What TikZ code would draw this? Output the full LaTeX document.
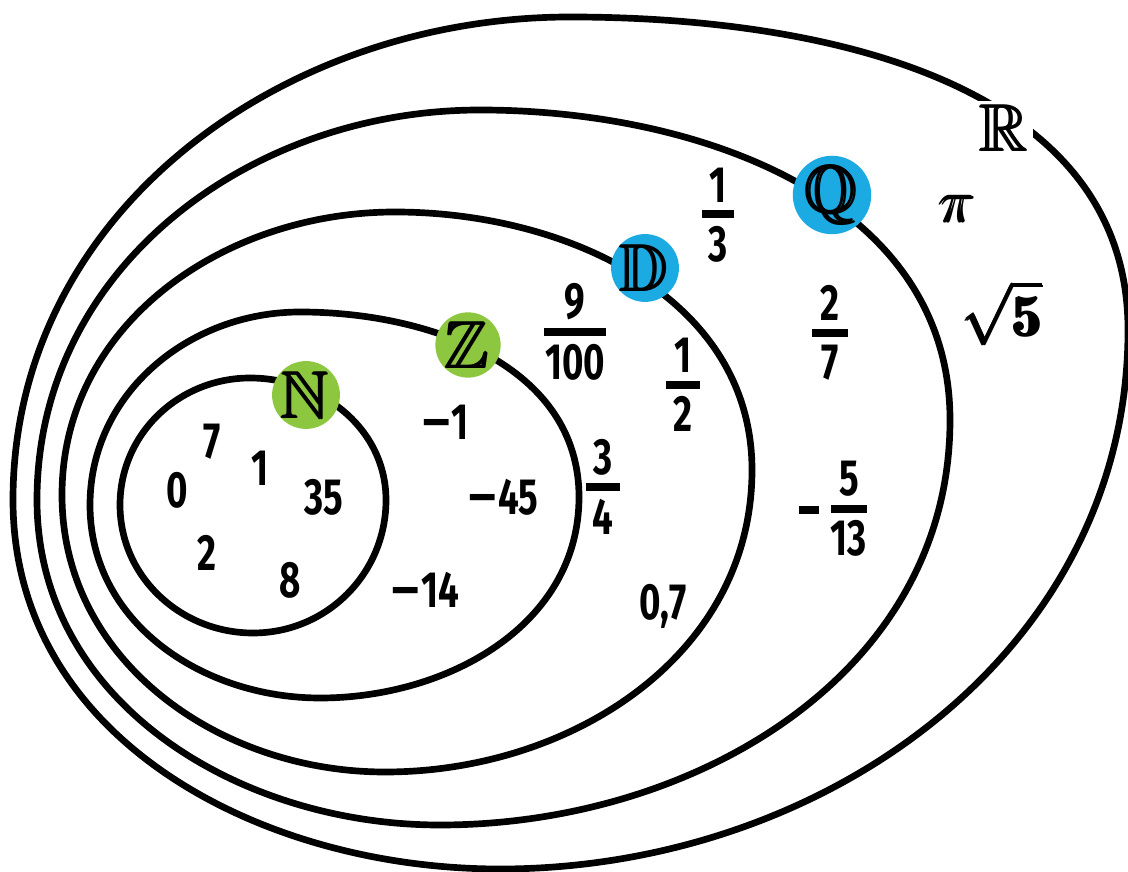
\documentclass[tikz,border=0pt]{standalone}
\usepackage{amsmath,amssymb}
\usepackage{fontspec}
\newfontfamily\numfont[FakeStretch=0.72]{Fira Sans}
\usepackage{tikz}
\usetikzlibrary{positioning}
\definecolor{setGreen}{RGB}{141,198,63}
\definecolor{setBlue}{RGB}{27,170,226}
\newcommand{\barfrac}[3]{$\genfrac{}{}{2.3pt}{1}{\makebox[#3]{#1}}{\makebox[#3]{#2}}$}
\newcommand{\mn}{\scalebox{1.6}[1]{−}}

\begin{document}
\begin{tikzpicture}[x=0.1mm,y=0.1mm,
  setline/.style={line width=1.9pt,line join=round},
  natset/.style={circle,fill=setGreen,inner sep=0pt,minimum size=6.3mm,
                 font=\fontsize{19}{21}\selectfont},
  ratset/.style={natset,fill=setBlue},
  num/.style={inner sep=0pt,font=\numfont\bfseries\fontsize{14.5}{16}\selectfont},
  irr/.style={inner sep=0pt,font=\fontsize{19}{21}\selectfont}
]
  \useasboundingbox (0,0) rectangle (1128,871);

  % R
  \coordinate (rl) at (13,371);  \coordinate (rt) at (570,854);
  \coordinate (rr) at (1128,541); \coordinate (rb) at (500,2);
  % Q
  \coordinate (ql) at (37,371);  \coordinate (qt) at (480,761);
  \coordinate (qr) at (950,451); \coordinate (qb) at (440,46);
  % D
  \coordinate (dl) at (62,376);  \coordinate (dt) at (395,659);
  \coordinate (dr) at (752,401); \coordinate (db) at (385,99);
  % Z
  \coordinate (zl) at (90,366);  \coordinate (zt) at (300,559);
  \coordinate (zr) at (579,374); \coordinate (zb) at (320,173);
  % N
  \coordinate (nl) at (120,366); \coordinate (nt) at (250,493);
  \coordinate (nr) at (386,371); \coordinate (nb) at (253,238);

  \foreach \s in {r,q,d,z,n}
    \draw[setline] (\s l) to[out=90,in=180] (\s t) to[out=0,in=90] (\s r)
                   to[out=-90,in=0] (\s b) to[out=180,in=-90] (\s l);

  \node[natset] (nat) at (306,476) {$\pmb{\mathbb{N}}$};
  \node[natset] (int) at (468,526) {$\pmb{\mathbb{Z}}$};
  \node[ratset] (dec) at (645,603) {$\pmb{\mathbb{D}}$};
  \node[ratset] (rat) at (832,676) {$\pmb{\mathbb{Q}}$};
  \node[fill=white,inner sep=1pt,font=\fontsize{19}{21}\selectfont] (real) at (1005,743) {$\pmb{\mathbb{R}}$};

  % naturels
  \node[num] (n7) at (212,429) {7};
  \node[num] (n1) at (260,403) {1};
  \node[num] (n0) at (177,381) {0};
  \node[num] (n35) at (324,374) {35};
  \node[num] (n2) at (207,318) {2};
  \node[num] (n8) at (290,291) {8};
  % entiers
  \node[num] (m1) at (445,449) {\mn1};
  \node[num] (m45) at (503,374) {\mn45};
  \node[num] (m14) at (425,281) {\mn14};
  % decimaux
  \node[num] (f9) at (575,539) {\barfrac{9}{100}{17.5pt}};
  \node[num] (f12) at (683,486) {\barfrac{1}{2}{9.5pt}};
  \node[num] (f34) at (603,384) {\barfrac{3}{4}{9.5pt}};
  \node[num] (d07) at (663,265) {0,7};
  % rationnels
  \node[num] (f13) at (718,656) {\barfrac{1}{3}{9pt}};
  \node[num] (f27) at (830,538) {\barfrac{2}{7}{10pt}};
  \node[num] (f513) at (835,362) {\rule[2.1pt]{5.5pt}{2.3pt}\,\barfrac{5}{13}{10pt}};
  % reels
  \node[irr] (rpi) at (958,662) {$\pmb{\pi}$};
  \node[irr,font=\fontsize{17}{19}\selectfont] (rsqrt) at (1003,558) {$\pmb{\sqrt{\mathbf{5}}}$};
\end{tikzpicture}
\end{document}
